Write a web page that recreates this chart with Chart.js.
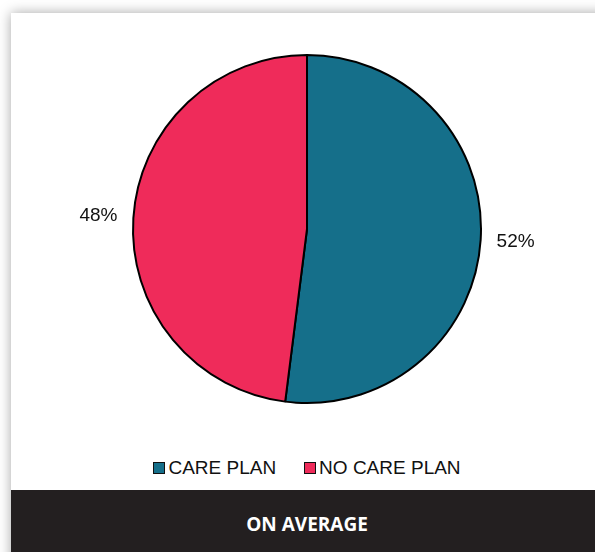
<!DOCTYPE html>
<html>
<head>
<meta charset="utf-8">
<script src="https://cdn.jsdelivr.net/npm/chart.js@4"></script>
<style>
  html, body { margin: 0; padding: 0; background: #fff; }
  body { width: 595px; height: 552px; position: relative; overflow: hidden; }
  .card {
    position: absolute; left: 11px; top: 13px; width: 600px; height: 560px;
    background: #fff; box-shadow: 0 0 12px rgba(0,0,0,0.35);
  }
  #pie_wrap { position: absolute; left: 0; top: 0; width: 584px; height: 440px; }
  #legend {
    position: absolute; left: 0; top: 444px; width: 584px; padding-left: 8px; box-sizing: border-box;
    display: flex; justify-content: center; gap: 28px;
    font-family: "Liberation Sans", Arial, sans-serif; font-size: 19px; color: #111;
  }
  #legend .item { display: flex; align-items: center; }
  #legend .box { width: 10px; height: 10px; border: 1px solid #111; margin-right: 3px; }
  .bar {
    position: absolute; left: 0; top: 477px; width: 600px; height: 75px;
    background: #231f20; color: #fff;
    font-family: "Open Sans", sans-serif; font-weight: 700; font-size: 19px;
  }
  .bar span { position: absolute; left: 0; width: 592px; top: 21px; text-align: center; }
</style>
</head>
<body>
<div class="card">
  <div id="pie_wrap"><canvas id="pie_graph" width="584" height="440"></canvas></div>
  <div id="legend"></div>
  <div class="bar"><span>ON AVERAGE</span></div>
</div>
<script>
const labels = ['CARE PLAN', 'NO CARE PLAN']
const values = [52, 48]
const colors = ['#156f8a', '#ef2b5a']

//etiquetas de porcentaje fuera del circulo
const outsideLabels = {
    id: 'outsideLabels',
    afterDatasetsDraw(chart) {
        const ctx = chart.ctx
        const meta = chart.getDatasetMeta(0)
        ctx.save()
        ctx.font = '19px "Liberation Sans", Arial, sans-serif'
        ctx.fillStyle = '#111'
        ctx.textAlign = 'center'
        ctx.textBaseline = 'middle'
        meta.data.forEach((arc, i) => {
            const mid = (arc.startAngle + arc.endAngle) / 2
            const r = arc.outerRadius + 35
            ctx.fillText(values[i] + '%', arc.x + Math.cos(mid) * r, arc.y + Math.sin(mid) * r)
        })
        ctx.restore()
    }
}

const pieGraph = () => {
    const data = {
        labels: labels,
        datasets: [
            {
                data: values,
                backgroundColor: colors,
                borderColor: '#000',
                borderWidth: 2
            }
        ]
    }

    const options = {
        responsive: false,
        animation: false,
        layout: { padding: { top: 41, bottom: 49, left: 8, right: 0 } },
        plugins: {
            legend: { display: false },
            tooltip: { enabled: false }
        }
    }
    new Chart('pie_graph', { type: 'pie', data, options, plugins: [outsideLabels] })
}

const buildLegend = () => {
    const legend = document.querySelector('#legend')
    labels.forEach((lab, i) => {
        const item = document.createElement('div')
        item.className = 'item'
        const box = document.createElement('span')
        box.className = 'box'
        box.style.background = colors[i]
        const txt = document.createElement('span')
        txt.textContent = lab
        item.appendChild(box)
        item.appendChild(txt)
        legend.appendChild(item)
    })
}

pieGraph()
buildLegend()
</script>
</body>
</html>
